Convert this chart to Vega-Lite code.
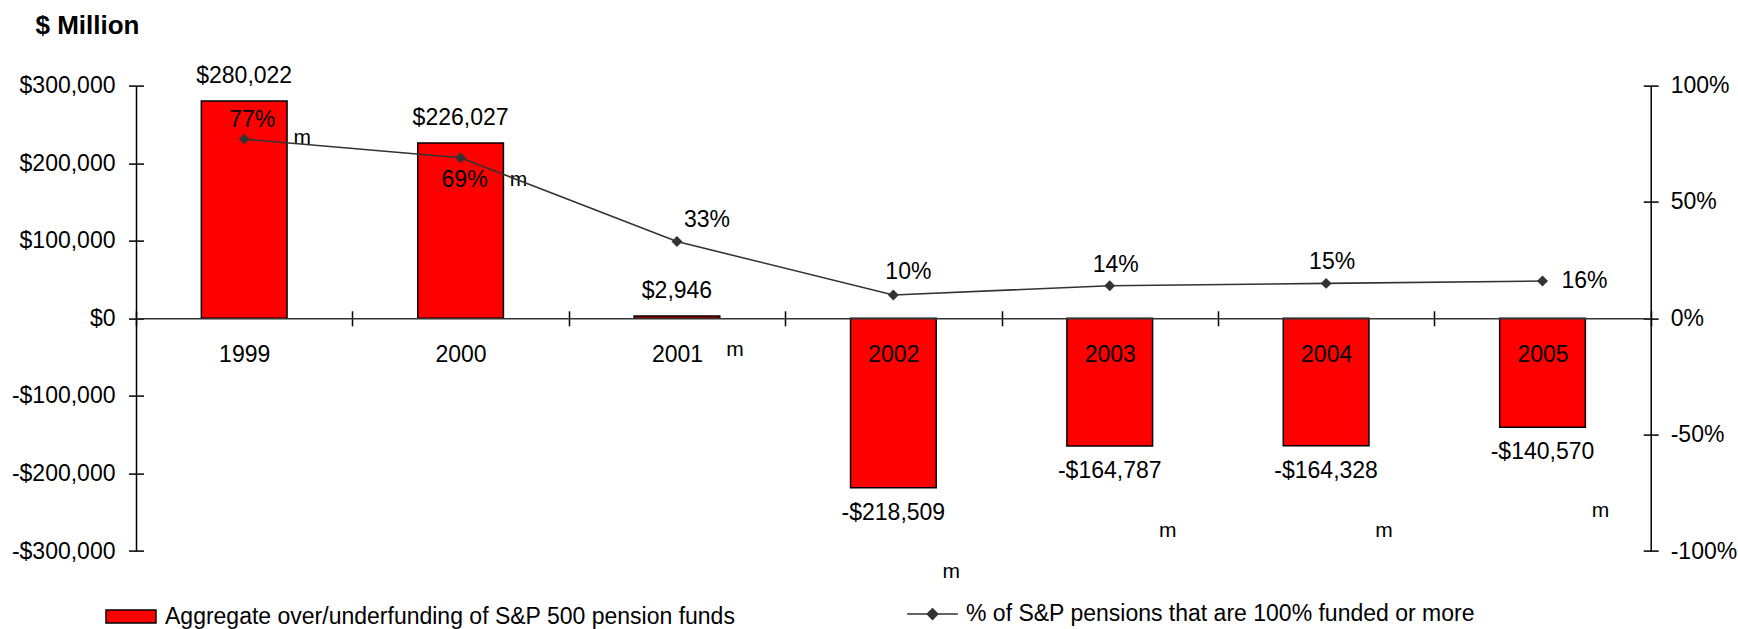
{
  "$schema": "https://vega.github.io/schema/vega-lite/v6.json",
  "width": 1514.7,
  "height": 465.4,
  "autosize": {"type": "none"},
  "padding": {"left": 136, "top": 85.6, "right": 87.3, "bottom": 78},
  "background": "white",
  "config": {
    "view": {"stroke": null},
    "font": "Liberation Sans",
    "text": {"font": "Liberation Sans", "fontSize": 23, "color": "black"},
    "axis": {"labelFont": "Liberation Sans", "titleFont": "Liberation Sans", "labelColor": "black", "labelFontSize": 23, "labelOverlap": false, "labelBound": false, "grid": false},
    "legend": {"labelFont": "Liberation Sans", "labelFontSize": 23, "labelColor": "black", "labelLimit": 0, "padding": 0}
  },
  "data": {
    "values": [
      {"year": "1999", "value": 280022, "label": "$280,022", "pct": 77, "pct_label": "77%", "m_pos": 233000},
      {"year": "2000", "value": 226027, "label": "$226,027", "pct": 69, "pct_label": "69%", "m_pos": 178800},
      {"year": "2001", "value": 2946, "label": "$2,946", "pct": 33, "pct_label": "33%", "m_pos": -41300},
      {"year": "2002", "value": -218509, "label": "-$218,509", "pct": 10, "pct_label": "10%", "m_pos": -327100},
      {"year": "2003", "value": -164787, "label": "-$164,787", "pct": 14, "pct_label": "14%", "m_pos": -274200},
      {"year": "2004", "value": -164328, "label": "-$164,328", "pct": 15, "pct_label": "15%", "m_pos": -274200},
      {"year": "2005", "value": -140570, "label": "-$140,570", "pct": 16, "pct_label": "16%", "m_pos": -248400}
    ]
  },
  "encoding": {
    "x": {
      "field": "year", "type": "nominal",
      "scale": {"type": "band", "paddingInner": 0, "paddingOuter": 0},
      "axis": {
        "orient": "bottom", "offset": -232.7, "title": null, "tickBand": "extent",
        "domainColor": "#333333", "domainWidth": 1.5, "tickColor": "black", "tickWidth": 1.5, "tickSize": 7.5,
        "labelPadding": 36, "labelBaseline": "alphabetic", "labelAngle": 0, "zindex": 1,
        "encoding": {"ticks": {"y": {"value": -7.5}}}
      }
    }
  },
  "layer": [
    {
      "encoding": {
        "y": {
          "field": "value", "type": "quantitative",
          "scale": {"domain": [-300000, 300000], "nice": false, "zero": false},
          "axis": {
            "orient": "left", "title": "$ Million", "titleAngle": 0, "titleX": -101, "titleY": -52,
            "titleAlign": "left", "titleBaseline": "alphabetic", "titleFontSize": 26, "titleFontWeight": "bold", "titleColor": "black",
            "values": [-300000, -200000, -100000, 0, 100000, 200000, 300000],
            "labelExpr": "(datum.value < 0 ? '-' : '') + '$' + format(abs(datum.value), ',')",
            "domainColor": "black", "domainWidth": 1.5, "tickColor": "black", "tickWidth": 1.5, "tickSize": 7.5,
            "labelPadding": 13.5,
            "encoding": {"ticks": {"x": {"value": 7.5}}}
          }
        }
      },
      "layer": [
        {
          "mark": {"type": "bar", "width": {"band": 0.396}, "stroke": "black", "strokeWidth": 1.5},
          "encoding": {
            "fill": {
              "datum": "Aggregate over/underfunding of S&P 500 pension funds",
              "scale": {"range": ["#FF0000"]},
              "legend": {
                "title": null, "orient": "none", "legendX": -31, "legendY": 505,
                "symbolType": "M-1,-0.26H1V0.26H-1Z", "symbolSize": 2500,
                "symbolStrokeColor": "black", "symbolStrokeWidth": 1.5, "labelOffset": 8
              }
            }
          }
        },
        {
          "transform": [{"filter": "datum.value >= 0"}],
          "mark": {"type": "text", "dy": -25, "baseline": "middle"},
          "encoding": {"text": {"field": "label"}}
        },
        {
          "transform": [{"filter": "datum.value < 0"}],
          "mark": {"type": "text", "dy": 25, "baseline": "middle"},
          "encoding": {"text": {"field": "label"}}
        },
        {
          "mark": {"type": "text", "dx": 58, "baseline": "middle", "fontSize": 21},
          "encoding": {"y": {"field": "m_pos", "type": "quantitative"}, "text": {"value": "m"}}
        }
      ]
    },
    {
      "encoding": {
        "y": {
          "field": "pct", "type": "quantitative",
          "scale": {"domain": [-100, 100], "nice": false, "zero": false},
          "axis": {
            "orient": "right", "title": null,
            "values": [-100, -50, 0, 50, 100],
            "labelExpr": "datum.value + '%'",
            "domainColor": "black", "domainWidth": 1.5, "tickColor": "black", "tickWidth": 1.5, "tickSize": 7.5,
            "labelPadding": 12,
            "encoding": {"ticks": {"x": {"value": -7.5}}}
          }
        }
      },
      "layer": [
        {
          "mark": {"type": "line", "strokeWidth": 1.6},
          "encoding": {
            "stroke": {
              "datum": "% of S&P pensions that are 100% funded or more",
              "scale": {"range": ["#333333"]},
              "legend": {
                "title": null, "orient": "none", "legendX": 770, "legendY": 502,
                "symbolType": "M-1,0H1M0,-0.21L0.21,0L0,0.21L-0.21,0Z", "symbolSize": 2570,
                "symbolFillColor": "#333333", "symbolStrokeColor": "#333333", "symbolStrokeWidth": 1.5, "labelOffset": 7
              }
            }
          }
        },
        {
          "mark": {"type": "point", "shape": "diamond", "filled": true, "color": "#333333", "size": 120, "opacity": 1},
          "encoding": {}
        },
        {
          "transform": [{"filter": "datum.year == '1999'"}],
          "mark": {"type": "text", "dx": 8, "dy": -19, "baseline": "middle"},
          "encoding": {"text": {"field": "pct_label"}}
        },
        {
          "transform": [{"filter": "datum.year == '2000'"}],
          "mark": {"type": "text", "dx": 4, "dy": 22, "baseline": "middle"},
          "encoding": {"text": {"field": "pct_label"}}
        },
        {
          "transform": [{"filter": "datum.year == '2001'"}],
          "mark": {"type": "text", "dx": 30, "dy": -22, "baseline": "middle"},
          "encoding": {"text": {"field": "pct_label"}}
        },
        {
          "transform": [{"filter": "datum.year == '2002'"}],
          "mark": {"type": "text", "dx": 15, "dy": -23, "baseline": "middle"},
          "encoding": {"text": {"field": "pct_label"}}
        },
        {
          "transform": [{"filter": "datum.year == '2003' || datum.year == '2004'"}],
          "mark": {"type": "text", "dx": 6, "dy": -21, "baseline": "middle"},
          "encoding": {"text": {"field": "pct_label"}}
        },
        {
          "transform": [{"filter": "datum.year == '2005'"}],
          "mark": {"type": "text", "dx": 42, "dy": 0, "baseline": "middle"},
          "encoding": {"text": {"field": "pct_label"}}
        }
      ]
    }
  ],
  "resolve": {"scale": {"y": "independent"}}
}
